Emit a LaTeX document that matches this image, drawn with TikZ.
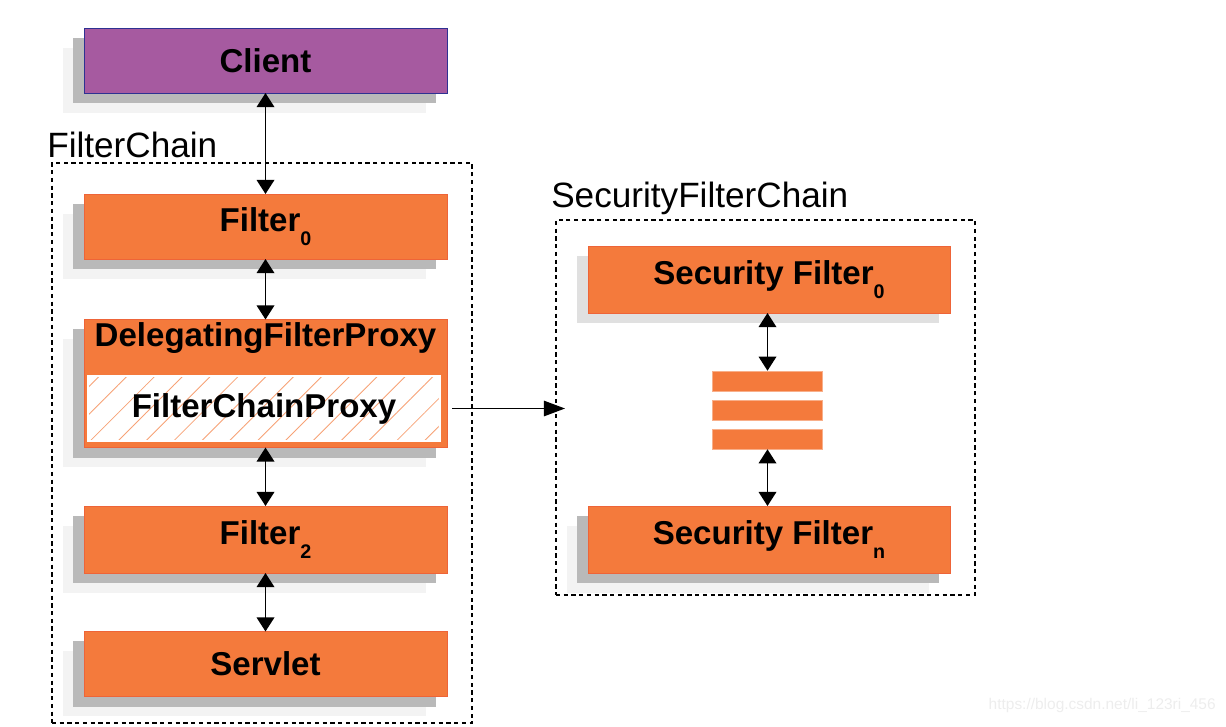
\documentclass[tikz,border=0pt]{standalone}
\usepackage{fontspec}
\setmainfont{Liberation Sans}
\usetikzlibrary{arrows.meta,shadows,patterns.meta}

\definecolor{filterorange}{HTML}{F47A3C}
\definecolor{filteredge}{HTML}{EE6438}
\definecolor{clientpurple}{HTML}{A65AA0}
\definecolor{clientedge}{HTML}{2E3192}
\definecolor{shadowdark}{HTML}{B9B9B9}
\definecolor{shadowlight}{HTML}{F3F3F3}
\definecolor{shadowsoft}{HTML}{E0E0E0}

\newcommand{\lowidx}[1]{\raisebox{-10pt}{\fontsize{14}{14}\selectfont #1}}

\begin{document}
\begin{tikzpicture}[x=0.025cm, y=-0.025cm,
	box/.style={draw=filteredge, line width=0.6pt, fill=filterorange,
		minimum width=9.075cm, minimum height=1.625cm, inner sep=0pt, outer sep=0pt,
		font=\bfseries\fontsize{23.5}{28}\selectfont},
	boxtext/.style={inner sep=0pt, font=\bfseries\fontsize{23.5}{28}\selectfont},
	shadowed/.style={general shadow={fill=shadowlight, shadow xshift=-15pt, shadow yshift=-14.2pt},
		general shadow={fill=shadowdark, shadow xshift=-7.8pt, shadow yshift=-7.1pt}},
	softshadow/.style={general shadow={fill=shadowsoft, shadow xshift=-7.8pt, shadow yshift=-7.1pt}},
	proxy/.style={draw=white, line width=0.8pt, preaction={fill=white},
		pattern={Lines[angle=45,distance=14pt,line width=0.6pt]}, pattern color=filterorange!70,
		minimum width=8.8cm, minimum height=1.625cm, inner sep=0pt,
		font=\bfseries\fontsize{23.5}{28}\selectfont},
	bar/.style={fill=filterorange, draw=filterorange!60, line width=0.4pt,
		minimum width=2.75cm, minimum height=0.5cm, inner sep=0pt},
	frame/.style={draw, line width=0.9pt, dash pattern=on 3pt off 2.5pt, inner sep=0pt},
	chaintitle/.style={inner sep=0pt, font=\fontsize{25}{30}\selectfont},
	link/.style={{Triangle[length=10pt,width=12.5pt]}-{Triangle[length=10pt,width=12.5pt]}, line width=1.2pt},
	feed/.style={-{Triangle[length=15pt,width=11pt]}, line width=0.9pt, shorten <=0.3cm}]
	\useasboundingbox (0,0) rectangle (1226,726);

	% FilterChain
	\node[frame, minimum width=10.5cm, minimum height=14cm] (chain) at (262,443) {};
	\node[chaintitle, anchor=base west] (chaintext) at (47,157) {FilterChain};

	% SecurityFilterChain
	\node[frame, minimum width=10.475cm, minimum height=9.375cm] (secchain) at (765.5,407.5) {};
	\node[chaintitle, anchor=base west] (secchaintext) at (551,207) {SecurityFilterChain};

	% Client
	\node[box, shadowed, fill=clientpurple, draw=clientedge] (client) at (265.5,60.5) {Client};

	% filters
	\node[box, shadowed] (filter0) at (265.5,226.5) {Filter\lowidx{0}};
	\node[box, shadowed, minimum height=3.2cm] (dfp) at (265.5,383.5) {};
	\node[boxtext] (dfptext) at (265.5,338) {DelegatingFilterProxy};
	\node[proxy] (fcp) at (264,408.5) {FilterChainProxy};
	\node[box, shadowed, minimum height=1.675cm] (filter2) at (265.5,539.5) {Filter\lowidx{2}};
	\node[box, shadowed] (servlet) at (265.5,664) {Servlet};

	\draw[link] (client) -- (filter0);
	\draw[link] (filter0) -- (dfp);
	\draw[link] (dfp) -- (filter2);
	\draw[link] (filter2) -- (servlet);

	% security filters
	\node[box, softshadow, minimum width=9.05cm, minimum height=1.675cm] (sf0) at (769,279.5) {Security Filter\lowidx{0}};
	\node[bar] (bar1) at (767.5,381) {};
	\node[bar] (bar2) at (767.5,410) {};
	\node[bar] (bar3) at (767.5,439) {};
	\node[box, shadowed, minimum width=9.05cm, minimum height=1.675cm] (sfn) at (769,539.5) {Security Filter\lowidx{n}};

	\draw[link] (bar1.north |- sf0.south) -- (bar1.north);
	\draw[link] (bar3.south) -- (bar3.south |- sfn.north);

	% FilterChainProxy -> SecurityFilterChain
	\coordinate (chainin) at (565,408.5);
	\draw[feed] (fcp.east) -- (chainin);

	\node[anchor=east, inner sep=0pt, text=black!7, font=\fontsize{11}{13}\selectfont] (mark) at (1216,705) {https://blog.csdn.net/li\_123ri\_456};

\end{tikzpicture}
\end{document}
